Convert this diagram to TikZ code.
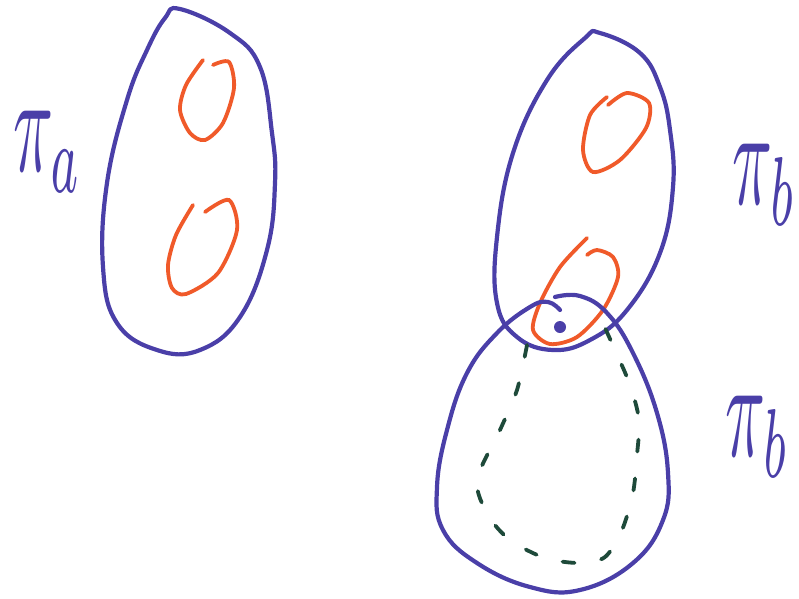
\documentclass[tikz,border=0pt]{standalone}
\usepackage{tikz}
\usetikzlibrary{positioning}
\usepackage{xcolor}
\usepackage{amsmath}
\definecolor{InkBlue}{HTML}{4A3FA8}
\definecolor{InkOrange}{HTML}{F05A2A}
\definecolor{InkGreen}{HTML}{1E4A3A}

\begin{document}
\begin{tikzpicture}[x=1pt, y=-1pt,
    group/.style={draw=InkBlue, line width=4.2pt, line cap=round, line join=round},
    member/.style={draw=InkOrange, line width=3.8pt, line cap=round},
    hidden/.style={draw=InkGreen, line width=3.8pt, line cap=round, dash pattern=on 12pt off 27pt},
    tag/.style={text=InkBlue, xscale=6.6, yscale=14, inner sep=0pt}]
  \useasboundingbox (0,0) rectangle (799,598);

  % pi_a with its two members
  \draw[group] plot[smooth cycle, tension=0.7] coordinates {(180,9) (230,33) (260,67) (272,133) (275,183) (267,250) (240,317) (200,350) (157,350) (117,323) (103,267) (107,183) (127,100) (147,50) (165,18)};
  \draw[member] plot[smooth] coordinates {(203,60) (186,85) (180,110) (190,133) (205,140) (223,123) (234,88) (229,62) (213,65)};
  \draw[member] plot[smooth] coordinates {(193,205) (176,235) (168,265) (172,288) (186,294) (218,273) (237,230) (229,200) (205,212)};

  % upper pi_b
  \draw[group] plot[smooth cycle, tension=0.7] coordinates {(600,33) (640,53) (660,87) (670,130) (673,187) (660,253) (627,310) (590,340) (553,350) (517,337) (497,303) (497,237) (513,153) (547,80) (585,38)};
  \draw[member] plot[smooth] coordinates {(607,97) (590,115) (583,150) (593,172) (620,160) (646,128) (649,103) (627,93) (608,105)};
  \draw[member] plot[smooth] coordinates {(587,238) (560,267) (540,303) (533,330) (550,344) (577,337) (603,310) (618,277) (613,257) (597,250) (587,255)};
  \fill[InkBlue] (560,327) circle[radius=6pt];

  % lower pi_b
  \draw[group] plot[smooth, tension=0.7] coordinates {(555,297) (580,296) (607,313) (633,353) (657,413) (668,473) (663,520) (633,563) (580,590) (530,587) (477,563) (443,530) (437,487) (447,430) (467,373) (497,333) (530,307) (548,302) (560,310)};
  \draw[hidden] plot[smooth] coordinates {(527,345) (517,390) (500,430) (477,480) (488,515) (510,540) (545,558) (580,563) (605,557) (622,530) (633,493) (637,455) (639,420) (630,385) (615,350) (605,328)};

  \foreach \name/\x/\y/\sub in {tagA/48/152/a, tagB/765/185/b, tagC/758/437/b}
    \node[tag] (\name) at (\x,\y) {$\pi_\sub$};
\end{tikzpicture}
\end{document}
